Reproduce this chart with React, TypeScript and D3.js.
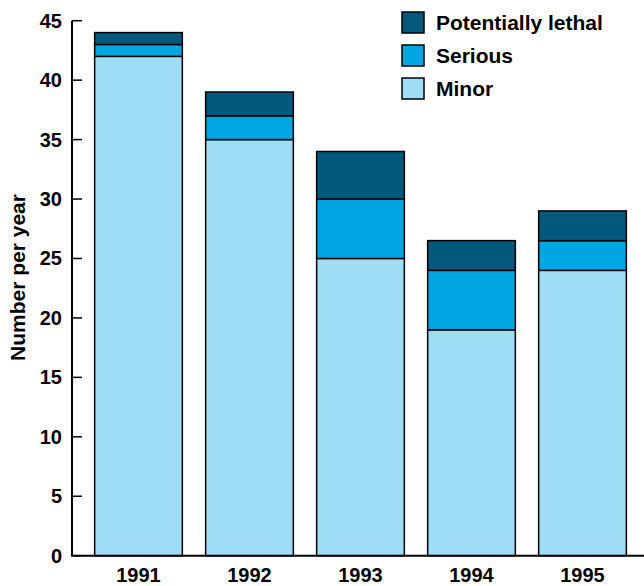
import React from "react";
import * as d3 from "d3";

const width = 644;
const height = 586;

const years = ["1991", "1992", "1993", "1994", "1995"];
const minor = [42, 35, 25, 19, 24];
const serious = [1, 2, 5, 5, 2.5];
const lethal = [1, 2, 4, 2.5, 2.5];
const yTicks = [0, 5, 10, 15, 20, 25, 30, 35, 40, 45];

const seriesKeys = ["minor", "serious", "lethal"];
const seriesLabels: Record<string, string> = {
  lethal: "Potentially lethal",
  serious: "Serious",
  minor: "Minor",
};
const colors: Record<string, string> = {
  lethal: "#03597c",
  serious: "#00a6e2",
  minor: "#9fdcf6",
};
const legendOrder = ["lethal", "serious", "minor"];

const font = "Liberation Sans, Arial, Helvetica, sans-serif";

export default function App() {
  const rows = years.map((year, i) => ({
    year,
    minor: minor[i],
    serious: serious[i],
    lethal: lethal[i],
  }));

  const stacked = d3.stack<any>().keys(seriesKeys)(rows);

  const x = d3
    .scaleBand()
    .domain(years)
    .range([72, 649])
    .paddingInner(0.21)
    .paddingOuter(0.204);

  const y = d3.scaleLinear().domain([0, 45]).range([555.7, 20.7]);

  const axisX = 72;
  const axisY = y(0);

  return (
    <svg
      width={width}
      height={height}
      style={{ position: "absolute", left: 0, top: 0 }}
      fontFamily={font}
      fontWeight="bold"
    >
      {/* bars */}
      {stacked.map((layer) => (
        <g key={layer.key} fill={colors[layer.key]}>
          {layer.map((d, i) => (
            <rect
              key={i}
              x={x(years[i])}
              y={y(d[1])}
              width={x.bandwidth()}
              height={y(d[0]) - y(d[1])}
              stroke="#000"
              strokeWidth={1.5}
            />
          ))}
        </g>
      ))}

      {/* y axis */}
      <line x1={axisX} x2={axisX} y1={y(45)} y2={axisY} stroke="#000" strokeWidth={2} />
      {yTicks.map((t) => (
        <g key={t}>
          <line x1={axisX} x2={axisX + 10} y1={y(t)} y2={y(t)} stroke="#000" strokeWidth={1.5} />
          <text x={62} y={y(t) + 7} textAnchor="end" fontSize={20}>
            {t}
          </text>
        </g>
      ))}

      {/* x axis */}
      <line x1={axisX - 1} x2={width} y1={axisY} y2={axisY} stroke="#000" strokeWidth={2} />
      {years.map((yr) => (
        <text
          key={yr}
          x={(x(yr) as number) + x.bandwidth() / 2}
          y={582}
          textAnchor="middle"
          fontSize={20}
        >
          {yr}
        </text>
      ))}

      {/* y title */}
      <text
        transform="translate(25, 277.5) rotate(-90)"
        textAnchor="middle"
        fontSize={21}
      >
        Number per year
      </text>

      {/* legend */}
      {legendOrder.map((k, i) => (
        <g key={k} transform={`translate(402, ${12 + i * 33})`}>
          <rect width={22} height={21} fill={colors[k]} stroke="#000" strokeWidth={1.5} />
          <text x={34} y={18} fontSize={21}>
            {seriesLabels[k]}
          </text>
        </g>
      ))}
    </svg>
  );
}
